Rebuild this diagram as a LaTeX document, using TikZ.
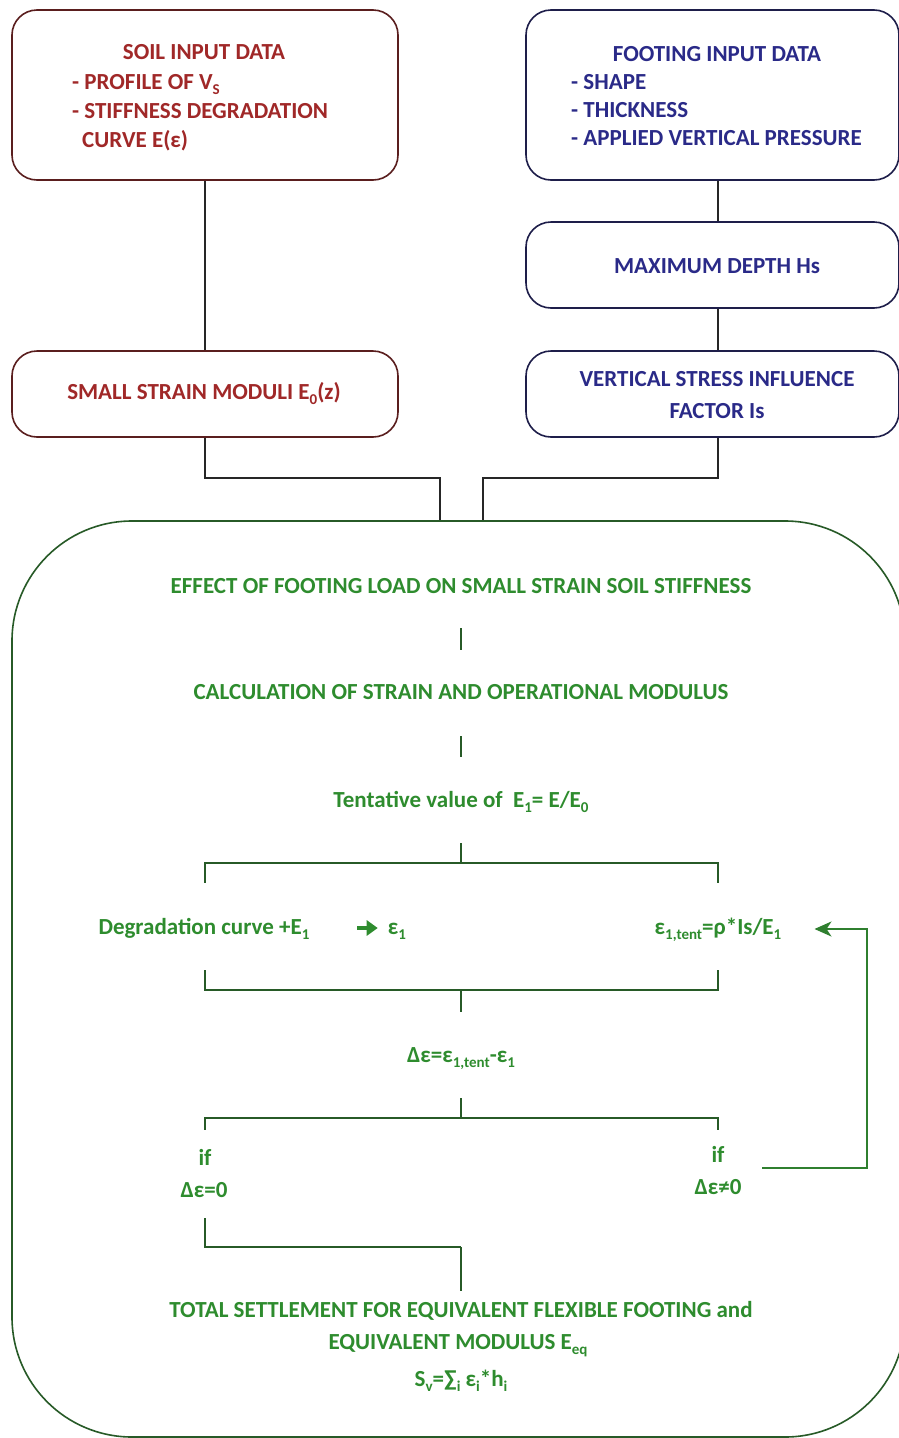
\documentclass[tikz,border=0pt]{standalone}
\usepackage{fontspec}
\setmainfont{Carlito}
\usetikzlibrary{arrows.meta}
\definecolor{soilred}{HTML}{A02828}
\definecolor{soilline}{HTML}{5A1E1E}
\definecolor{footblue}{HTML}{2A2A88}
\definecolor{footline}{HTML}{1E1E4A}
\definecolor{grtext}{HTML}{2E8C2E}
\definecolor{grline}{HTML}{275A27}
\definecolor{grloop}{HTML}{2F7F2F}
\newcommand{\sbs}[1]{\raisebox{-0.45ex}{\fontsize{15}{15}\selectfont #1}}
\newcommand{\fsz}{\fontsize{23}{27}\selectfont}
\tikzset{
  redbox/.style={draw=soilline, line width=1.6pt, rounded corners=25pt, inner sep=0pt},
  bluebox/.style={draw=footline, line width=1.6pt, rounded corners=25pt, inner sep=0pt},
  redtxt/.style={text=soilred, font=\bfseries\fsz, inner sep=0pt, text height=14pt, text depth=4pt},
  bluetxt/.style={text=footblue, font=\bfseries\fsz, inner sep=0pt, text height=14pt, text depth=4pt},
  gtxt/.style={text=grtext, font=\bfseries\fsz, inner sep=0pt, text height=14pt, text depth=4pt},
  bline/.style={draw=black!85, line width=1.6pt},
  gline/.style={draw=grline, line width=1.6pt},
}
\begin{document}
\begin{tikzpicture}[x=1pt,y=-1pt]
\useasboundingbox[fill=white] (0,0) rectangle (899,1438);
% boxes
\node[redbox, minimum width=386pt, minimum height=170pt] (soil) at (205,95) {};
\node[bluebox, minimum width=373pt, minimum height=170pt] (foot) at (712.5,95) {};
\node[bluebox, minimum width=373pt, minimum height=86pt] (maxd) at (712.5,265) {};
\node[redbox, minimum width=386pt, minimum height=86pt] (small) at (205,394) {};
\node[bluebox, minimum width=373pt, minimum height=86pt] (vs) at (712.5,394) {};
\node[draw=grline, line width=1.6pt, rounded corners=120pt, inner sep=0pt,
      minimum width=893pt, minimum height=916pt] (big) at (458.5,979) {};
% soil text
\node[redtxt, anchor=base] (soilh) at (204,59) {SOIL INPUT DATA};
\node[redtxt, anchor=base west] (soil1) at (72,89) {- PROFILE OF V\sbs{S}};
\node[redtxt, anchor=base west] (soil2) at (72,118) {- STIFFNESS DEGRADATION};
\node[redtxt, anchor=base west] (soil3) at (82,147) {CURVE E(ε)};
% footing text
\node[bluetxt, anchor=base] (footh) at (717,61) {FOOTING INPUT DATA};
\node[bluetxt, anchor=base west] (foot1) at (571,89) {- SHAPE};
\node[bluetxt, anchor=base west] (foot2) at (571,117) {- THICKNESS};
\node[bluetxt, anchor=base west] (foot3) at (571,145) {- APPLIED VERTICAL PRESSURE};
\node[bluetxt, anchor=base] (maxdt) at (717,273) {MAXIMUM DEPTH Hs};
\node[redtxt, anchor=base] (smallt) at (204,399) {SMALL STRAIN MODULI E\sbs{0}(z)};
\node[bluetxt, anchor=base] (vst1) at (717,386) {VERTICAL STRESS INFLUENCE};
\node[bluetxt, anchor=base] (vst2) at (717,418) {FACTOR Is};
% coordinates
\coordinate (rx) at (718,0);
\coordinate (jl) at (440,478);
\coordinate (jr) at (483,478);
% top connectors
\draw[bline] (soil.south) -- (small.north);
\draw[bline] (foot.south -| rx) -- (maxd.north -| rx);
\draw[bline] (maxd.south -| rx) -- (vs.north -| rx);
\draw[bline] (small.south) |- (jl) -- (jl |- big.north);
\draw[bline] (vs.south -| rx) |- (jr) -- (jr |- big.north);
% green content
\node[gtxt, anchor=base] (effect) at (461,593) {EFFECT OF FOOTING LOAD ON SMALL STRAIN SOIL STIFFNESS};
\node[gtxt, anchor=base] (calc) at (461,699) {CALCULATION OF STRAIN AND OPERATIONAL MODULUS};
\node[gtxt, anchor=base] (tent) at (461,807) {Tentative value of\ \ E\sbs{1}= E/E\sbs{0}};
\node[gtxt, anchor=base] (degrad) at (204,934) {Degradation curve +E\sbs{1}};
\node[gtxt, anchor=base] (e1) at (397,934) {ε\sbs{1}};
\node[gtxt, anchor=base] (eps) at (718,934) {ε\sbs{1,tent}=ρ*Is/E\sbs{1}};
\node[gtxt, anchor=base] (deps) at (461,1062) {Δε=ε\sbs{1,tent}-ε\sbs{1}};
\node[gtxt, anchor=base] (ifl) at (205,1165) {if};
\node[gtxt, anchor=base] (eq0) at (204,1197) {Δε=0};
\node[gtxt, anchor=base] (ifr) at (718,1162) {if};
\node[gtxt, anchor=base] (neq0) at (718,1194) {Δε≠0};
\node[gtxt, anchor=base] (total) at (461,1317) {TOTAL SETTLEMENT FOR EQUIVALENT FLEXIBLE FOOTING and};
\node[gtxt, anchor=base] (eqmod) at (458,1349) {EQUIVALENT MODULUS E\sbs{eq}};
\node[gtxt, anchor=base] (sv) at (461,1386) {S\sbs{v}=∑\sbs{i} ε\sbs{i}*h\sbs{i}};
% coordinates for brackets
\coordinate (bk1) at (461,863);
\coordinate (bk2) at (461,990);
\coordinate (bk3) at (461,1118);
\coordinate (bk4) at (461,1247);
\coordinate (lpS) at (762,1168);
\coordinate (lpX) at (867,0);
\coordinate (arS) at (357,928);
% green connectors
\draw[gline, shorten <=31pt, shorten >=35pt] (effect.south) -- (calc.north);
\draw[gline, shorten <=33pt, shorten >=36pt] (calc.south) -- (tent.north);
\draw[gline, shorten <=32pt] (tent.south) -- (bk1);
\draw[gline, shorten <=37pt] (degrad.north -| soil.south) |- (bk1);
\draw[gline, shorten <=37pt] (eps.north) |- (bk1);
\draw[gline, shorten <=32pt] (degrad.south -| soil.south) |- (bk2);
\draw[gline, shorten <=32pt] (eps.south) |- (bk2);
\draw[gline, shorten >=36pt] (bk2) -- (deps.north);
\draw[gline, shorten <=32pt] (deps.south) -- (bk3);
\draw[gline, shorten >=21pt] (bk3) -| (ifl.north);
\draw[gline, shorten >=18pt] (bk3) -| (ifr.north);
\draw[gline, shorten <=17pt] (eq0.south -| ifl.south) |- (bk4);
\draw[gline, shorten >=12pt] (bk4) -- (total.north);
\draw[draw=grtext, line width=3.5pt, -{Triangle[length=11pt,width=15pt]}, shorten >=10pt] (arS) -- (arS -| e1.west);
\draw[draw=grloop, line width=1.8pt, -{Stealth[length=17pt,width=15pt,inset=5pt]}] (lpS) -- (lpS -| lpX) |- ([xshift=33pt]eps.east);
\end{tikzpicture}
\end{document}
